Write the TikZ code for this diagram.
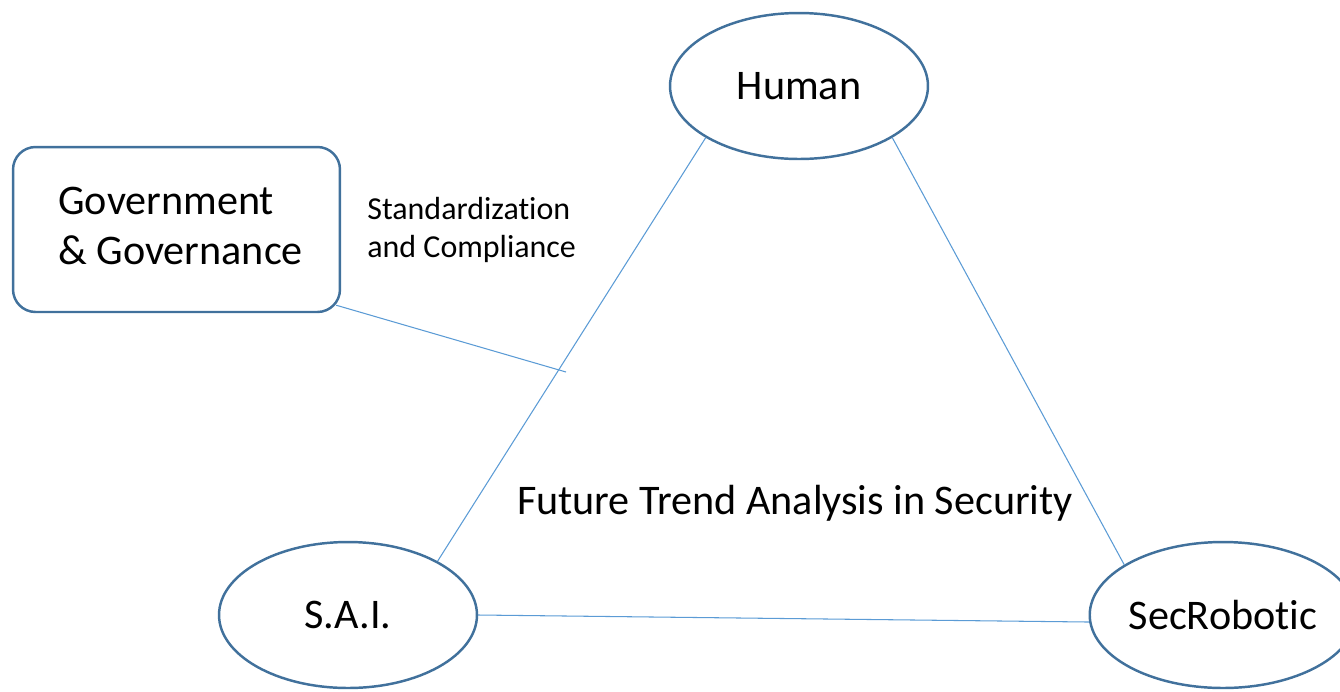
\documentclass[tikz,border=0pt]{standalone}
\usepackage{fontspec}
\setmainfont{Carlito}[Ligatures=NoCommon]
\usetikzlibrary{shapes.geometric}
\definecolor{rim}{RGB}{65,113,156}
\definecolor{link}{RGB}{91,155,213}
\begin{document}
\begin{tikzpicture}[x=0.02cm,y=-0.02cm,
    party/.style={draw=rim,line width=1.4pt,ellipse,minimum width=5.16cm,minimum height=2.92cm,inner sep=0pt,font=\fontsize{24}{28}\selectfont},
    tie/.style={draw=link,line width=0.6pt}]
\useasboundingbox (0,0) rectangle (1340,691);

% the three parties
\node[party] at (799,86)(human){Human};
\node[party] at (348,615)(sai){S.A.I.};
\node[party] at (1223,615)(robot){SecRobotic};

% regulator box
\node[draw=rim,line width=1.4pt,rounded corners=0.45cm,minimum width=6.54cm,minimum height=3.3cm] at (176.5,229.5)(gov){};
\node[anchor=west,align=left,inner sep=0,font=\fontsize{24}{28.3}\selectfont] at (58,226)(govtext){Government\\\& Governance};
\node[anchor=west,align=left,inner sep=0,font=\fontsize{18.2}{21.5}\selectfont] at (367,230)(std){Standardization\\and Compliance};

\node[font=\fontsize{24}{28}\selectfont] at (795,503)(trend){Future Trend Analysis in Security};

% triangle and the link from the box
\path[tie] (human.209) -- (sai.31);
\path[tie] (human.331) -- (robot.153);
\path[tie] (sai.0) -- (robot.183);
\coordinate (hit) at (566,372);
\path[tie] ([xshift=-0.1cm,yshift=0.16cm]gov.south east) -- (hit);
\end{tikzpicture}
\end{document}
